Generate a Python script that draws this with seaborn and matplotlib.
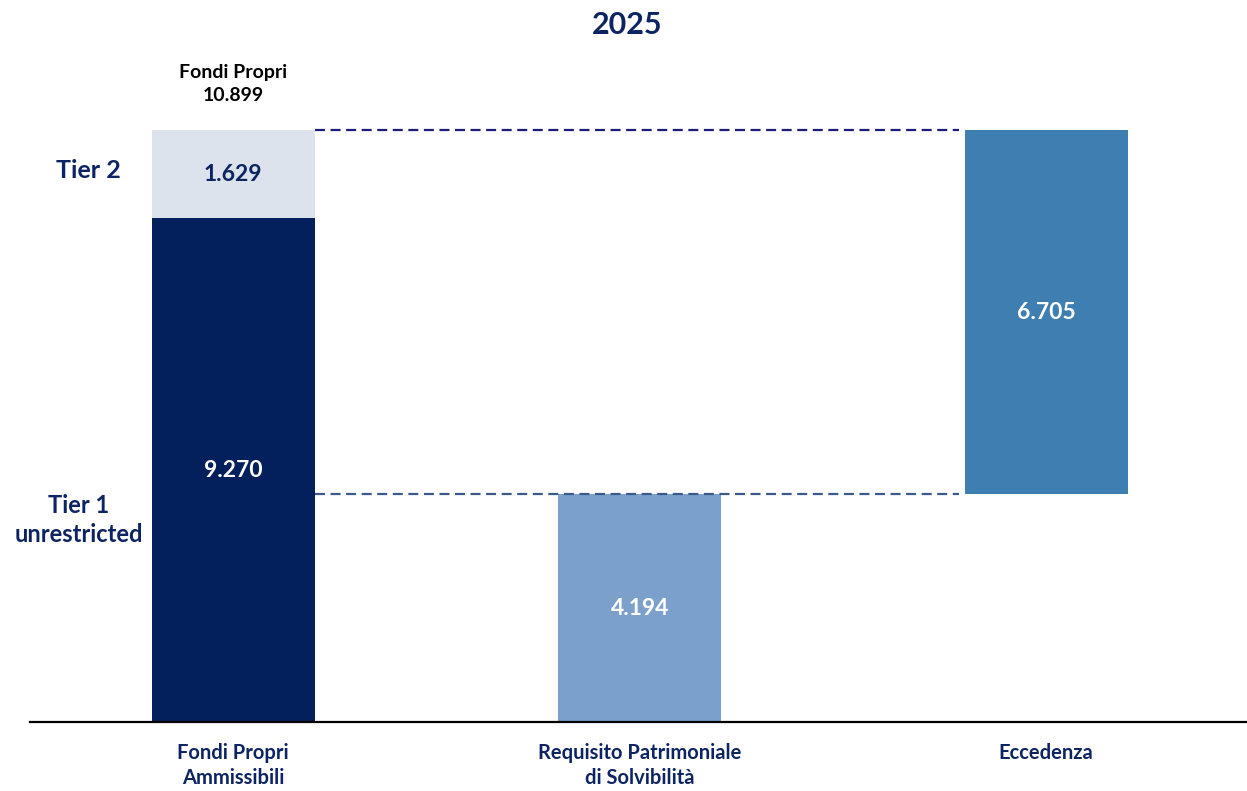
import numpy as np
import pandas as pd
import seaborn as sns
import matplotlib.pyplot as plt

# data
categories = ["Fondi Propri\nAmmissibili", "Requisito Patrimoniale\ndi Solvibilità", "Eccedenza"]
base_values = [9.270, 4.194, 6.705]
base_bottoms = [0.0, 0.0, 4.194]
tier2_value = 1.629
total_label = "Fondi Propri\n10.899"
total_value = 10.899
value_labels = ["9.270", "4.194", "6.705"]
tier2_label = "1.629"

navy = "#0c2461"
bar_colors = ["#03205c", "#7ba0cb", "#3f7eb0"]
tier2_color = "#dae3f0"

sns.set_style("white")
plt.rcParams['font.family'] = ['Lato', 'DejaVu Sans']

fig = plt.figure(figsize=(12.47, 7.91), dpi=100, facecolor='white')
ax = fig.add_axes([30/1247, 69/791, 1219.5/1247, 622/791])

df = pd.DataFrame({'cat': categories, 'val': base_values})
sns.barplot(data=df, x='cat', y='val', order=categories, bottom=base_bottoms,
            width=0.4, color=bar_colors[0], ax=ax, linewidth=0)
for patch, c in zip(ax.patches, bar_colors):
    patch.set_facecolor(c)
    patch.set_edgecolor(c)

df2 = pd.DataFrame({'cat': [categories[0]], 'val': [tier2_value]})
sns.barplot(data=df2, x='cat', y='val', order=categories, bottom=base_values[0],
            width=0.4, color=tier2_color, ax=ax, linewidth=0)

# connector lines
ax.plot([0.2, 1.785], [total_value, total_value], color="#1c1c7a", lw=1.6,
        dashes=(4.5, 2.5))
ax.plot([0.2, 1.785], [base_values[1], base_values[1]], color="#3a5a8c", lw=1.6,
        dashes=(4.5, 2.5))

# value labels
for i, (v, b, lab) in enumerate(zip(base_values, base_bottoms, value_labels)):
    ax.text(i, b + v / 2, lab, ha='center', va='center', color='white',
            fontsize=16.5, fontweight='bold')
ax.text(0, base_values[0] + tier2_value / 2, tier2_label, ha='center', va='center',
        color=navy, fontsize=16.5, fontweight='bold')
ax.annotate(total_label, (0, total_value), xytext=(0, 19), textcoords='offset points',
            ha='center', va='bottom', fontsize=14, fontweight='bold', color='black',
            linespacing=1.4)

# tier labels
fig.text(88/1247, 1 - 170/791, "Tier 2", ha='center', va='center', color=navy,
         fontsize=18, fontweight='bold')
fig.text(79/1247, 1 - 520/791, "Tier 1\nunrestricted", ha='center', va='center',
         color=navy, fontsize=17, fontweight='bold', linespacing=1.35)

fig.text(627/1247, 1 - 25/791, "2025", ha='center', va='center', color=navy,
         fontsize=22, fontweight='bold')

ax.set_xlim(-0.5, 2.5)
ax.set_ylim(0, 622 / (592 / total_value))
ax.set_yticks([])
ax.set_xlabel("")
ax.set_ylabel("")
ax.tick_params(axis='x', length=0, pad=15)
for lab in ax.get_xticklabels():
    lab.set_fontsize(14.5)
    lab.set_fontweight('bold')
    lab.set_color(navy)
    lab.set_linespacing(1.35)
    lab.set_verticalalignment('top')
for s in ['top', 'right', 'left']:
    ax.spines[s].set_visible(False)
ax.spines['bottom'].set_color('black')
ax.spines['bottom'].set_linewidth(1.6)

fig.savefig("out.png", dpi=100, facecolor='white')
